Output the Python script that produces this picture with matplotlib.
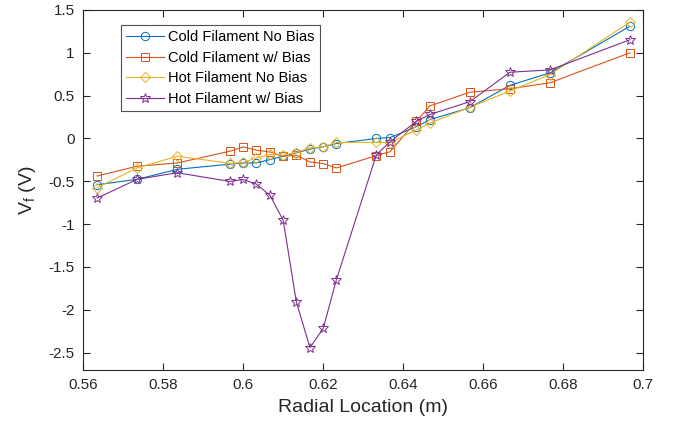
import matplotlib
matplotlib.use("Agg")
import matplotlib.pyplot as plt

plt.rcParams['font.family'] = ['Liberation Sans', 'DejaVu Sans']
plt.rcParams['mathtext.fontset'] = 'custom'
plt.rcParams['mathtext.rm'] = 'Liberation Sans'

# Posiciones radiales (m)
radial = [0.5635, 0.5735, 0.5835, 0.5967, 0.6, 0.6033, 0.6067, 0.61, 0.6133, 0.6167,
          0.62, 0.6233, 0.6333, 0.6367, 0.6433, 0.6467, 0.6567, 0.6667, 0.6767, 0.6967]

cold_no_bias = [-0.54, -0.477, -0.36, -0.30, -0.286, -0.286, -0.246, -0.207, -0.168, -0.125,
                -0.098, -0.059, 0.0, 0.01, 0.137, 0.22, 0.36, 0.62, 0.766, 1.31]
cold_bias = [-0.438, -0.324, -0.286, -0.149, -0.098, -0.137, -0.157, -0.207, -0.196, -0.274,
             -0.293, -0.344, -0.2, -0.155, 0.2, 0.38, 0.54, 0.58, 0.65, 1.0]
hot_no_bias = [-0.575, -0.344, -0.207, -0.29, -0.28, -0.227, -0.187, -0.196, -0.164, -0.11,
               -0.098, -0.047, -0.045, -0.05, 0.1, 0.18, 0.365, 0.553, 0.746, 1.357]
hot_bias = [-0.695, -0.477, -0.40, -0.502, -0.479, -0.533, -0.664, -0.954, -1.909, -2.442,
            -2.218, -1.650, -0.19, -0.04, 0.2, 0.28, 0.43, 0.773, 0.80, 1.152]

labels = ["Cold Filament No Bias", "Cold Filament w/ Bias",
          "Hot Filament No Bias", "Hot Filament w/ Bias"]
colors = ["#0072BD", "#D95319", "#EDB120", "#7E2F8E"]
markers = ["o", "s", "D", "*"]
sizes = [6, 5.5, 5.5, 7.5]

fig = plt.figure(figsize=(6.82, 4.32), dpi=100)
ax = fig.add_axes([0.122, 0.144, 0.821, 0.833])

for ys, lab, c, m, ms in zip([cold_no_bias, cold_bias, hot_no_bias, hot_bias],
                             labels, colors, markers, sizes):
    ax.plot(radial, ys, color=c, marker=m, markersize=ms, markerfacecolor='none',
            markeredgewidth=0.7, linewidth=0.8, label=lab)

ax.set_xlim(0.56, 0.7)
ax.set_ylim(-2.7, 1.5)
ax.set_xticks([0.56, 0.58, 0.6, 0.62, 0.64, 0.66, 0.68, 0.7])
ax.set_xticklabels(["0.56", "0.58", "0.6", "0.62", "0.64", "0.66", "0.68", "0.7"])
ax.set_yticks([-2.5, -2, -1.5, -1, -0.5, 0, 0.5, 1, 1.5])
ax.set_yticklabels(["-2.5", "-2", "-1.5", "-1", "-0.5", "0", "0.5", "1", "1.5"])

dark = "#262626"
for s in ax.spines.values():
    s.set_color(dark)
    s.set_linewidth(0.8)
ax.tick_params(direction='in', top=True, right=True, length=5, width=0.8,
               colors=dark, labelsize=11, pad=6)

ax.set_xlabel("Radial Location (m)", fontsize=14, color=dark, labelpad=5)
ax.set_ylabel(r"V$_\mathregular{f}$ (V)", fontsize=14, color=dark, labelpad=8)

leg = ax.legend(loc='upper left', bbox_to_anchor=(0.068, 0.958), fontsize=10.5,
                frameon=True, fancybox=False, edgecolor=dark, handlelength=2.6,
                handletextpad=0.25, borderpad=0.35, labelspacing=0.45, borderaxespad=0)
leg.get_frame().set_linewidth(0.8)

fig.savefig("out.png", dpi=100)
